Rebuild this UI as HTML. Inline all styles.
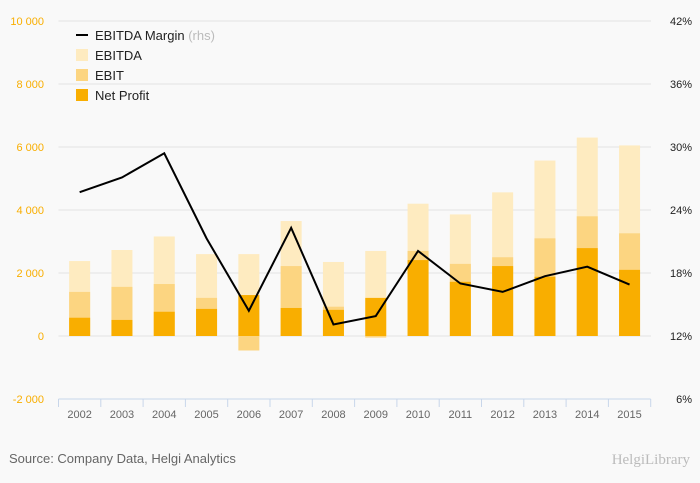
<!DOCTYPE html>
<html><head><meta charset="utf-8"><style>
body{margin:0;background:#f9f9f9;}
svg{display:block;font-family:"Liberation Sans",sans-serif;}
</style></head><body>
<svg id="chart" width="700" height="483">
<rect width="700" height="483" fill="#f9f9f9"/>
<g id="grid"></g><g id="bars"></g><g id="line"></g><g id="axes"></g>
<g font-size="13" fill="#222">
<line x1="76" y1="35" x2="88" y2="35" stroke="#000" stroke-width="2"/>
<text x="95" y="40">EBITDA Margin <tspan fill="#bbb">(rhs)</tspan></text>
<rect x="76" y="49" width="12" height="12" fill="#feebc0"/>
<text x="95" y="60">EBITDA</text>
<rect x="76" y="69" width="12" height="12" fill="#fcd581"/>
<text x="95" y="80">EBIT</text>
<rect x="76" y="89" width="12" height="12" fill="#f9ae00"/>
<text x="95" y="100">Net Profit</text>
</g>
<text x="9" y="463" font-size="13" fill="#666">Source: Company Data, Helgi Analytics</text>
<text x="690" y="464" font-size="15" fill="#bbb" text-anchor="end" font-family="Liberation Serif,serif">HelgiLibrary</text>
</svg>
<script>
const years=["2002","2003","2004","2005","2006","2007","2008","2009","2010","2011","2012","2013","2014","2015"];
const ebitda=[2380,2730,3160,2600,2600,3650,2350,2700,4200,3860,4560,5570,6300,6050];
const ebit=[1400,1560,1650,1210,-460,2220,930,-50,2700,2290,2500,3100,3800,3260];
const netProfit=[580,510,770,860,1300,890,830,1210,2410,1720,2220,1880,2790,2100];
const margin=[25.7,27.1,29.4,21.3,14.4,22.3,13.1,13.9,20.1,17.0,16.2,17.7,18.6,16.9];
const leftTicks=[-2000,0,2000,4000,6000,8000,10000];
const leftLabels=["-2 000","0","2 000","4 000","6 000","8 000","10 000"];
const rightTicks=[6,12,18,24,30,36,42];
const rightLabels=["6%","12%","18%","24%","30%","36%","42%"];
const NS="http://www.w3.org/2000/svg";
const X0=58.5,BW=42.3,Y0=399,Y1=21;
const yL=v=>Y0-(v+2000)/12000*(Y0-Y1);
const yR=v=>Y0-(v-6)/36*(Y0-Y1);
const xC=i=>X0+BW*(i+0.5);
function mk(p,t,a){const e=document.createElementNS(NS,t);for(const k in a)e.setAttribute(k,a[k]);p.appendChild(e);return e;}
const grid=document.getElementById('grid'),bars=document.getElementById('bars'),line=document.getElementById('line'),axes=document.getElementById('axes');
leftTicks.forEach((v,i)=>{
 if(v>-2000){const g=mk(grid,'line',{x1:X0,x2:651,y1:yL(v),y2:yL(v),stroke:'#e2e2e2','stroke-width':1});
 
 }
 const t=mk(axes,'text',{x:44,y:yL(v)+4,'font-size':11,fill:'#f9ae00','text-anchor':'end'});t.textContent=leftLabels[i];
 
 
});
rightTicks.forEach((v,i)=>{
 const t=mk(axes,'text',{x:692,y:yR(v)+4,'font-size':11,fill:'#222','text-anchor':'end'});t.textContent=rightLabels[i];
 
 
});
function bar(i,v,fill,name){
 const y=Math.min(yL(0),yL(v)),h=Math.abs(yL(v)-yL(0));
 const r=mk(bars,'rect',{x:xC(i)-10.5,y:y,width:21,height:h,fill:fill});
 
 
}
years.forEach((yr,i)=>{
 bar(i,ebitda[i],'#feebc0','bar-ebitda-'+yr);
 bar(i,ebit[i],'#fcd581','bar-ebit-'+yr);
 bar(i,netProfit[i],'#f9ae00','bar-net-profit-'+yr);
 const t=mk(axes,'text',{x:xC(i),y:418,'font-size':11,fill:'#666','text-anchor':'middle'});t.textContent=yr;
 
 
});
for(let i=0;i<=14;i++){const tk=mk(axes,'line',{x1:X0+BW*i,x2:X0+BW*i,y1:Y0,y2:Y0+8,stroke:'#c8d6ea'});
 
 }
const ax=mk(axes,'line',{x1:X0,x2:X0+BW*14,y1:Y0,y2:Y0,stroke:'#c8d6ea'});


const pl=mk(line,'polyline',{points:margin.map((m,i)=>xC(i)+','+yR(m)).join(' '),fill:'none',stroke:'#000','stroke-width':2});


</script>
</body></html>
